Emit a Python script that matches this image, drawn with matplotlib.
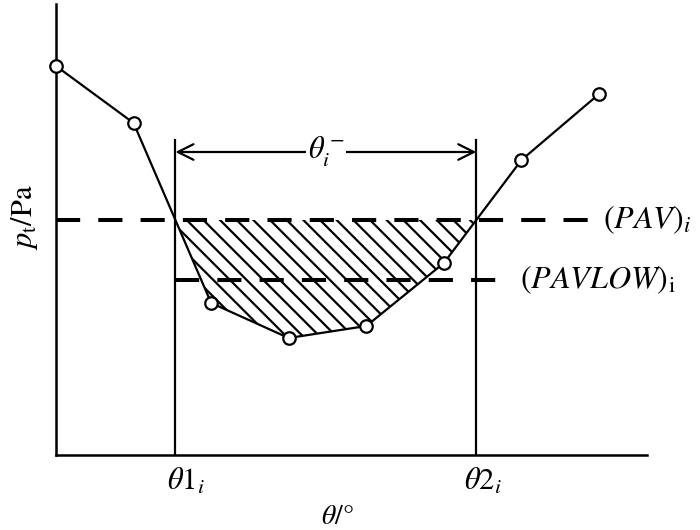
import numpy as np
import matplotlib
matplotlib.use("Agg")
import matplotlib.pyplot as plt

plt.rcParams['mathtext.fontset'] = 'stix'
plt.rcParams['font.family'] = ['Liberation Serif', 'DejaVu Serif']
plt.rcParams['hatch.linewidth'] = 1.6

# data (schematic)
theta = [0, 45, 90, 135, 180, 225, 270, 315]
pt = [389, 332, 152, 117, 129, 192, 295, 361]
pav = 235
pavlow = 175
pavlow_end = 259
vline_top = 315
arrow_y = 303

theta = np.array(theta, dtype=float)
pt = np.array(pt, dtype=float)

# intersections of curve with PAV
def crossings(x, y, level):
    out = []
    for i in range(len(x) - 1):
        y0, y1 = y[i], y[i + 1]
        if (y0 - level) * (y1 - level) < 0:
            out.append(x[i] + (level - y0) / (y1 - y0) * (x[i + 1] - x[i]))
    return out

th1, th2 = crossings(theta, pt, pav)

fig = plt.figure(figsize=(7, 5.3), dpi=100)
ax = fig.add_axes([56 / 700, 75 / 530, 591 / 700, 451 / 530])
ax.set_xlim(0, 342.8)
ax.set_ylim(0, 451)

for s in ['top', 'right']:
    ax.spines[s].set_visible(False)
for s in ['left', 'bottom']:
    ax.spines[s].set_linewidth(1.8)
ax.set_xticks([])
ax.set_yticks([])

# hatched region
inner = (theta > th1) & (theta < th2)
xs = np.concatenate([[th1], theta[inner], [th2]])
ys = np.interp(xs, theta, pt)
ax.fill_between(xs, ys, pav, facecolor='none', edgecolor='black', hatch='\\\\', linewidth=0)

# PAV lines
ax.plot([0, theta[-1]], [pav, pav], color='black', lw=2.9, linestyle=(0, (6, 4.5)), zorder=3)
ax.plot([th1, pavlow_end], [pavlow, pavlow], color='black', lw=2.9, linestyle=(0, (6, 4.5)), zorder=3)

# vertical lines
ax.plot([th1, th1], [0, vline_top], color='black', lw=1.6)
ax.plot([th2, th2], [0, vline_top], color='black', lw=1.6)

# curve
ax.plot(theta, pt, color='black', lw=1.6, marker='o', markersize=9,
        markerfacecolor='white', markeredgecolor='black', markeredgewidth=1.6,
        clip_on=False, zorder=5)

# arrow
ax.annotate('', xy=(th1, arrow_y), xytext=(th2, arrow_y),
            arrowprops=dict(arrowstyle='<->', color='black', lw=1.6, mutation_scale=28,
                            shrinkA=0, shrinkB=0))
ax.text((th1 + th2) / 2, arrow_y, r'$\theta_i^-$', fontsize=22, ha='center', va='center',
        bbox=dict(facecolor='white', edgecolor='none', pad=1), zorder=6)

# labels
ax.text(theta[-1] + 2, pav, r'$(PAV)_i$', fontsize=23, ha='left', va='center', clip_on=False)
ax.text(pavlow_end + 10, pavlow, r'$(PAVLOW)_{\mathrm{i}}$', fontsize=23, ha='left', va='center', clip_on=False)

ax.text(th1 + 6, -12, r'$\theta 1_i$', fontsize=22, ha='center', va='top', clip_on=False)
ax.text(th2 + 4, -12, r'$\theta 2_i$', fontsize=22, ha='center', va='top', clip_on=False)

fig.text(337 / 700, 1 - 517 / 530, r'$\theta/°$', fontsize=20, ha='center', va='center')
fig.text(25 / 700, 1 - 217 / 530, r'$p_{\mathrm{t}}/\mathrm{Pa}$', fontsize=22, ha='center', va='center', rotation=90)

fig.savefig('out.png', dpi=100)
